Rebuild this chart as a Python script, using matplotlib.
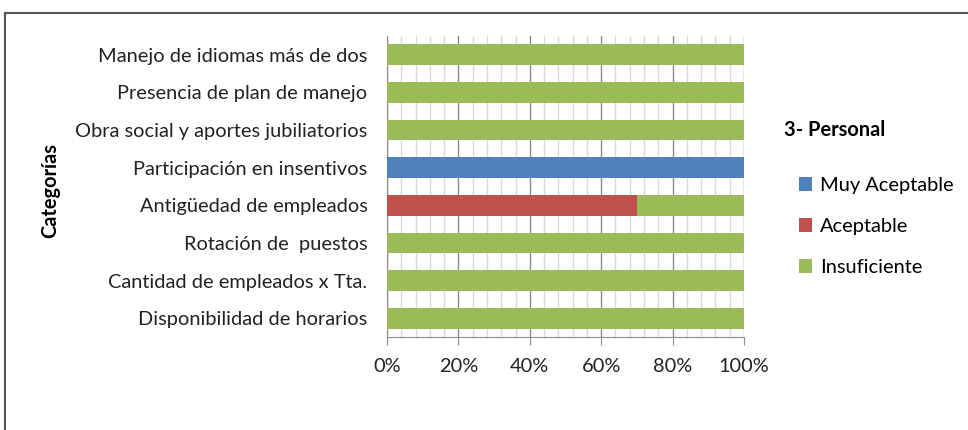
import matplotlib
matplotlib.use("Agg")
import matplotlib.pyplot as plt
from matplotlib.ticker import MultipleLocator, PercentFormatter
from matplotlib.patches import Rectangle

plt.rcParams['font.family'] = ['Lato', 'DejaVu Sans']

categories = [
    "Disponibilidad de horarios",
    "Cantidad de empleados x Tta.",
    "Rotación de  puestos",
    "Antigüedad de empleados",
    "Participación en insentivos",
    "Obra social y aportes jubiliatorios",
    "Presencia de plan de manejo",
    "Manejo de idiomas más de dos",
]
muy_aceptable = [0, 0, 0, 0, 100, 0, 0, 0]
aceptable = [0, 0, 0, 70, 0, 0, 0, 0]
insuficiente = [100, 100, 100, 30, 0, 100, 100, 100]

series_names = ["Muy Aceptable", "Aceptable", "Insuficiente"]
colors = ["#4F81BD", "#C0504D", "#9BBB59"]

FS = 14.4

fig = plt.figure(figsize=(9.68, 4.3), dpi=100)
ax = fig.add_axes([387/968, 1-337/430, (744-387)/968, (337-36)/430])

y = list(range(len(categories)))
left = [0]*len(categories)
handles = []
for vals, name, c in zip([muy_aceptable, aceptable, insuficiente], series_names, colors):
    h = ax.barh(y, vals, left=left, height=0.55, color=c, label=name, zorder=3)
    handles.append(h)
    left = [l + v for l, v in zip(left, vals)]

ax.set_xlim(0, 100)
ax.set_ylim(-0.5, len(categories)-0.5)
ax.xaxis.set_major_locator(MultipleLocator(20))
ax.xaxis.set_minor_locator(MultipleLocator(4))
ax.xaxis.set_major_formatter(PercentFormatter(decimals=0))
ax.grid(axis='x', which='major', color='#8c8c8c', linewidth=1.0, zorder=0)
ax.grid(axis='x', which='minor', color='#d9d9d9', linewidth=1.0, zorder=0)
ax.set_yticks(y)
ax.set_yticklabels(categories, fontsize=FS, color='#222222')
ax.tick_params(axis='y', length=0, pad=14)
ax.tick_params(axis='x', which='major', length=6, color='#8c8c8c', labelsize=FS, pad=9, labelcolor='#222222')
ax.tick_params(axis='x', which='minor', length=0)
for s in ['top', 'right']:
    ax.spines[s].set_visible(False)
ax.spines['bottom'].set_color('#8c8c8c')
ax.spines['left'].set_color('#8c8c8c')

fig.text(50/968, 1-190/430, "Categorías", rotation=90, fontsize=FS, fontweight='bold',
         ha='center', va='center')

fig.text(784/968, 1-130/430, "3- Personal", fontsize=FS, fontweight='bold',
         ha='left', va='center')
leg = fig.legend(handles, series_names, loc='upper left', bbox_to_anchor=(793/968, 1-171/430),
                 frameon=False, fontsize=FS, handlelength=0.65, handleheight=0.65,
                 handletextpad=0.4, labelspacing=1.2, borderaxespad=0, borderpad=0.3)

fig.patches.append(Rectangle((5/968, -0.1), 1.1, 1 - 13/430 + 0.1, transform=fig.transFigure,
                             fill=False, edgecolor='#555555', linewidth=1.5))

fig.savefig("out.png", dpi=100)
